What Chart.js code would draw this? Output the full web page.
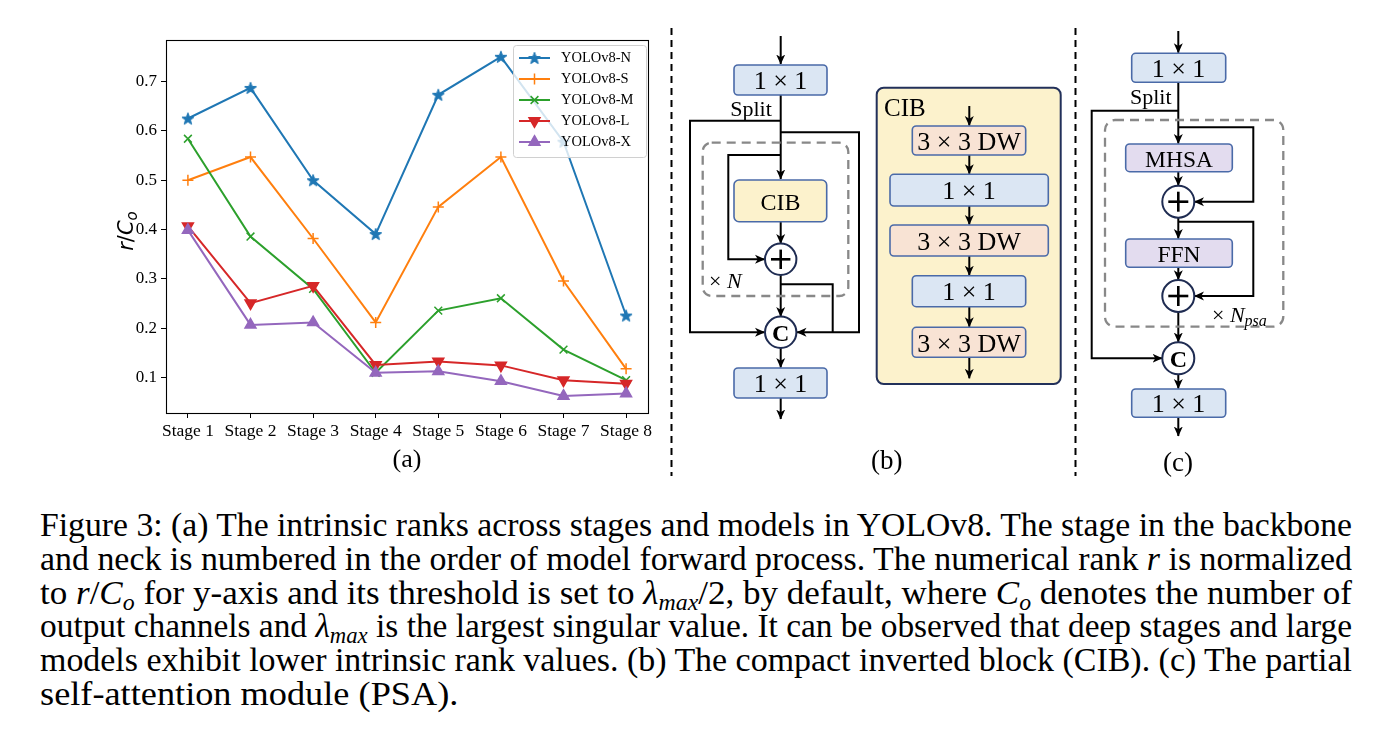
<!DOCTYPE html>
<html><head><meta charset="utf-8">
<script src="https://cdn.jsdelivr.net/npm/chart.js@4.4.1/dist/chart.umd.min.js"></script>
<style>
html,body{margin:0;padding:0;background:#fff;width:1380px;height:732px;overflow:hidden;font-family:"Liberation Serif","Times New Roman",serif;color:#000;}
#wrap{position:relative;width:1380px;height:732px;}
#chartBox{position:absolute;left:0;top:0;width:670px;height:480px;}
#ytitle{position:absolute;left:126px;top:231px;transform:translate(-50%,-50%) rotate(-90deg);font-family:"DejaVu Sans",sans-serif;font-size:21px;white-space:nowrap;}
#ytitle sub{font-size:15px;vertical-align:-4px;line-height:0;}
#diag{position:absolute;left:0;top:0;}
#caption{position:absolute;left:40px;top:509px;width:1312px;font-size:33px;line-height:33.8px;}
#caption .ln{white-space:nowrap;height:33.8px;}
#caption .ln span{display:inline-block;transform-origin:0 50%;}
#caption sub{font-size:0.68em;vertical-align:-0.28em;line-height:0;}
svg text{font-family:"Liberation Serif","Times New Roman",serif;}
</style></head>
<body><div id="wrap">
<div id="chartBox"><canvas id="cv" width="670" height="480"></canvas></div>
<div id="ytitle"><i>r</i>/<i>C</i><sub><i>o</i></sub></div>

<svg id="diag" width="1380" height="490" viewBox="0 0 1380 490">
<defs>
<marker id="ah" viewBox="0 0 10 10" refX="9.5" refY="5" markerWidth="10" markerHeight="10" markerUnits="userSpaceOnUse" orient="auto">
<path d="M0,0.5 L10,5 L0,9.5 L2.8,5 z" fill="#000"/>
</marker>
</defs>
<g stroke="#000" stroke-width="2" stroke-dasharray="7 5" fill="none">
<line x1="671.5" y1="28" x2="671.5" y2="476"/>
<line x1="1075.5" y1="28" x2="1075.5" y2="476"/>
</g>

<!-- (b) -->
<g fill="none" stroke="#000" stroke-width="2">
<line x1="780.7" y1="36" x2="780.7" y2="64" marker-end="url(#ah)"/>
<line x1="780.7" y1="95" x2="780.7" y2="179" marker-end="url(#ah)"/>
<polyline points="780.7,120.7 690,120.7 690,332.3 764.5,332.3" marker-end="url(#ah)"/>
<polyline points="780.7,132.3 859,132.3 859,332.3 797,332.3" marker-end="url(#ah)"/>
<polyline points="780.7,155 728.3,155 728.3,259.3 764.5,259.3" marker-end="url(#ah)"/>
<line x1="780.7" y1="221.7" x2="780.7" y2="243.5" marker-end="url(#ah)"/>
<line x1="780.7" y1="275" x2="780.7" y2="316.5" marker-end="url(#ah)"/>
<polyline points="780.7,284.3 832.7,284.3 832.7,332.3"/>
<line x1="780.7" y1="348" x2="780.7" y2="367.5" marker-end="url(#ah)"/>
<line x1="780.7" y1="398" x2="780.7" y2="419" marker-end="url(#ah)"/>
</g>
<rect x="702.7" y="142.7" width="145.6" height="153.3" rx="9" fill="none" stroke="#888" stroke-width="2.3" stroke-dasharray="9 6"/>
<g stroke="#4a6aa8" stroke-width="1.6">
<rect x="734" y="65" width="93" height="30" rx="4" fill="#dbe6f3"/>
<rect x="734" y="180" width="92.7" height="41.7" rx="5" fill="#fcf2cc"/>
<rect x="734" y="368" width="93" height="30" rx="4" fill="#dbe6f3"/>
</g>
<g stroke="#1f2c52" stroke-width="2" fill="#fff">
<circle cx="780.7" cy="259.3" r="15.7"/>
<circle cx="780.7" cy="332.3" r="15.7"/>
</g>
<g stroke="#000" stroke-width="2.6">
<line x1="771" y1="259.3" x2="790.4" y2="259.3"/><line x1="780.7" y1="249.6" x2="780.7" y2="269"/>
</g>
<g font-size="26" text-anchor="middle" fill="#000">
<text x="780.5" y="89">1 × 1</text>
<text x="780.5" y="209.5" font-size="24">CIB</text>
<text x="780.7" y="341" font-weight="bold" font-size="24">C</text>
<text x="780.5" y="392">1 × 1</text>
<text x="886.7" y="469" font-size="27">(b)</text>
</g>
<text x="751" y="116" font-size="22" text-anchor="middle">Split</text>
<text x="709" y="288" font-size="22">× <tspan font-style="italic">N</tspan></text>

<!-- CIB detail -->
<rect x="876.7" y="87.7" width="184" height="296.3" rx="7" fill="#fcf2cc" stroke="#22305a" stroke-width="2"/>
<text x="884" y="116" font-size="25">CIB</text>
<g fill="none" stroke="#000" stroke-width="2">
<line x1="969.3" y1="106" x2="969.3" y2="125.5" marker-end="url(#ah)"/>
<line x1="969.3" y1="155" x2="969.3" y2="173.8" marker-end="url(#ah)"/>
<line x1="969.3" y1="206" x2="969.3" y2="224.5" marker-end="url(#ah)"/>
<line x1="969.3" y1="256" x2="969.3" y2="275.2" marker-end="url(#ah)"/>
<line x1="969.3" y1="306.7" x2="969.3" y2="326.8" marker-end="url(#ah)"/>
<line x1="969.3" y1="357.3" x2="969.3" y2="378.3" marker-end="url(#ah)"/>
</g>
<g stroke="#4a6aa8" stroke-width="1.6">
<rect x="912.3" y="126" width="113.4" height="29" rx="4" fill="#f8e3d4"/>
<rect x="890" y="174.3" width="158.3" height="31.7" rx="4" fill="#dbe6f3"/>
<rect x="890" y="225" width="158.3" height="31" rx="4" fill="#f8e3d4"/>
<rect x="912.3" y="275.7" width="113.4" height="31" rx="4" fill="#dbe6f3"/>
<rect x="912.3" y="327.3" width="113.4" height="30" rx="4" fill="#f8e3d4"/>
</g>
<g font-size="26" text-anchor="middle" fill="#000">
<text x="969" y="149.5">3 × 3 DW</text>
<text x="969" y="199">1 × 1</text>
<text x="969" y="249.5">3 × 3 DW</text>
<text x="969" y="300">1 × 1</text>
<text x="969" y="351.5">3 × 3 DW</text>
</g>

<!-- (c) -->
<g fill="none" stroke="#000" stroke-width="2">
<line x1="1178.3" y1="31" x2="1178.3" y2="52.8" marker-end="url(#ah)"/>
<line x1="1178.3" y1="82.3" x2="1178.3" y2="143.5" marker-end="url(#ah)"/>
<polyline points="1178.3,110.7 1091.7,110.7 1091.7,358.3 1162,358.3" marker-end="url(#ah)"/>
<polyline points="1178.3,127.3 1253.3,127.3 1253.3,201.7 1194.5,201.7" marker-end="url(#ah)"/>
<line x1="1178.3" y1="171.7" x2="1178.3" y2="185.5" marker-end="url(#ah)"/>
<line x1="1178.3" y1="217.7" x2="1178.3" y2="238.5" marker-end="url(#ah)"/>
<polyline points="1178.3,221.7 1253.3,221.7 1253.3,296 1194.5,296" marker-end="url(#ah)"/>
<line x1="1178.3" y1="267.3" x2="1178.3" y2="279.8" marker-end="url(#ah)"/>
<line x1="1178.3" y1="312" x2="1178.3" y2="342" marker-end="url(#ah)"/>
<line x1="1178.3" y1="374.3" x2="1178.3" y2="388.5" marker-end="url(#ah)"/>
<line x1="1178.3" y1="417.3" x2="1178.3" y2="436" marker-end="url(#ah)"/>
</g>
<rect x="1105" y="120" width="178.3" height="206.7" rx="10" fill="none" stroke="#888" stroke-width="2.3" stroke-dasharray="9 6"/>
<g stroke="#4a6aa8" stroke-width="1.6">
<rect x="1131.7" y="53.3" width="94" height="29" rx="4" fill="#dbe6f3"/>
<rect x="1125.7" y="144" width="106.6" height="27.7" rx="4" fill="#e3dcef"/>
<rect x="1125.7" y="239" width="106.6" height="28.3" rx="4" fill="#e3dcef"/>
<rect x="1131.7" y="389" width="94" height="28.3" rx="4" fill="#dbe6f3"/>
</g>
<g stroke="#1f2c52" stroke-width="2" fill="#fff">
<circle cx="1178.3" cy="201.7" r="16"/>
<circle cx="1178.3" cy="296" r="16"/>
<circle cx="1178.3" cy="358.3" r="16"/>
</g>
<g stroke="#000" stroke-width="2.6">
<line x1="1168.3" y1="201.7" x2="1188.3" y2="201.7"/><line x1="1178.3" y1="191.7" x2="1178.3" y2="211.7"/>
<line x1="1168.3" y1="296" x2="1188.3" y2="296"/><line x1="1178.3" y1="286" x2="1178.3" y2="306"/>
</g>
<g font-size="26" text-anchor="middle" fill="#000">
<text x="1178.5" y="76.5">1 × 1</text>
<text x="1179" y="166.5" font-size="23.5">MHSA</text>
<text x="1179" y="261.5" font-size="23.5">FFN</text>
<text x="1178.3" y="367" font-weight="bold" font-size="24">C</text>
<text x="1178.5" y="412">1 × 1</text>
<text x="1178" y="471" font-size="27">(c)</text>
</g>
<text x="1150.8" y="104" font-size="22" text-anchor="middle">Split</text>
<text x="1212" y="322" font-size="22">× <tspan font-style="italic">N</tspan><tspan font-style="italic" font-size="16" dy="4">psa</tspan></text>
</svg>

<div id="caption">
<div class="ln"><span>Figure 3: (a) The intrinsic ranks across stages and models in YOLOv8. The stage in the backbone</span></div>
<div class="ln"><span>and neck is numbered in the order of model forward process. The numerical rank <i>r</i> is normalized</span></div>
<div class="ln"><span>to <i>r</i>/<i>C<sub>o</sub></i> for y-axis and its threshold is set to <i>λ<sub>max</sub></i>/2, by default, where <i>C<sub>o</sub></i> denotes the number of</span></div>
<div class="ln"><span>output channels and <i>λ<sub>max</sub></i> is the largest singular value. It can be observed that deep stages and large</span></div>
<div class="ln"><span>models exhibit lower intrinsic rank values. (b) The compact inverted block (CIB). (c) The partial</span></div>
<div class="ln last"><span>self-attention module (PSA).</span></div>
</div>
</div>

<script>
// ---- data ----
const stages = ['Stage 1','Stage 2','Stage 3','Stage 4','Stage 5','Stage 6','Stage 7','Stage 8'];
const seriesNames = ['YOLOv8-N','YOLOv8-S','YOLOv8-M','YOLOv8-L','YOLOv8-X'];
const yoloN = [0.625, 0.687, 0.500, 0.391, 0.673, 0.750, 0.578, 0.226];
const yoloS = [0.500, 0.547, 0.382, 0.212, 0.446, 0.547, 0.296, 0.118];
const yoloM = [0.584, 0.386, 0.280, 0.110, 0.236, 0.261, 0.157, 0.095];
const yoloL = [0.407, 0.251, 0.286, 0.126, 0.133, 0.125, 0.095, 0.088];
const yoloX = [0.399, 0.207, 0.212, 0.110, 0.113, 0.093, 0.063, 0.068];
const yTicks = [0.1, 0.2, 0.3, 0.4, 0.5, 0.6, 0.7];

const colors = ['#1f77b4','#ff7f0e','#2ca02c','#d62728','#9467bd'];
const seriesValues = [yoloN, yoloS, yoloM, yoloL, yoloX];
const SERIF = '"Liberation Serif","Times New Roman",serif';

// caption justification (per line, like the typeset original)
(function(){
  const W = 1312, K = 1.1;
  document.querySelectorAll('#caption .ln').forEach(ln => {
    const sp = ln.querySelector('span');
    const w = sp.getBoundingClientRect().width;
    const last = ln.classList.contains('last');
    const s = last ? K : Math.min(K, W / w);
    sp.style.transform = 'scaleX(' + s + ')';
    if (!last) {
      const n = (sp.textContent.match(/ /g) || []).length;
      const extra = (W - w * s) / s;
      if (n && extra > 0) sp.style.wordSpacing = (extra / n) + 'px';
    }
  });
})();

function starImg(color, r){
  const s = Math.ceil(r*2+3);
  const c = document.createElement('canvas'); c.width = s; c.height = s;
  const g = c.getContext('2d');
  g.fillStyle = color; g.strokeStyle = color; g.lineWidth = 1;
  g.beginPath();
  for (let i=0;i<10;i++){
    const rr = (i%2) ? r*0.42 : r;
    const a = -Math.PI/2 + i*Math.PI/5;
    g.lineTo(s/2 + rr*Math.cos(a), s/2 + 0.6 + rr*Math.sin(a));
  }
  g.closePath(); g.fill(); g.stroke();
  return c;
}

const markerDefs = [
  {pointStyle: starImg(colors[0], 6.3), pointRadius: 6, pointRotation: 0},
  {pointStyle: 'cross', pointRadius: 5.5, pointRotation: 0},
  {pointStyle: 'crossRot', pointRadius: 5.5, pointRotation: 0},
  {pointStyle: 'triangle', pointRadius: 6.3, pointRotation: 180},
  {pointStyle: 'triangle', pointRadius: 6.3, pointRotation: 0}
];

const datasets = seriesNames.map((name, i) => ({
  label: name,
  data: seriesValues[i].map((v, j) => ({x: j + 1, y: v})),
  borderColor: colors[i],
  backgroundColor: colors[i],
  pointBackgroundColor: colors[i],
  pointBorderColor: colors[i],
  borderWidth: 2,
  pointBorderWidth: 1.5,
  pointStyle: markerDefs[i].pointStyle,
  pointRadius: markerDefs[i].pointRadius,
  pointRotation: markerDefs[i].pointRotation,
  tension: 0,
  fill: false,
  order: seriesNames.length - i
}));

const framePlugin = {
  id: 'frame',
  afterDatasetsDraw(chart){
    const {ctx, chartArea: a} = chart;
    ctx.save();
    ctx.strokeStyle = '#000'; ctx.lineWidth = 1.1;
    ctx.strokeRect(Math.round(a.left)+0.5, Math.round(a.top)+0.5, Math.round(a.right-a.left), Math.round(a.bottom-a.top));
    ctx.restore();
  }
};

const legendPlugin = {
  id: 'innerLegend',
  afterDraw(chart){
    const {ctx, chartArea: a} = chart;
    const bw = 133, bh = 112;
    const bx = a.right - bw - 2, by = a.top + 5;
    ctx.save();
    ctx.beginPath();
    ctx.roundRect(bx+0.5, by+0.5, bw, bh, 3);
    ctx.fillStyle = 'rgba(255,255,255,0.8)';
    ctx.fill();
    ctx.strokeStyle = '#d0d0d0'; ctx.lineWidth = 1; ctx.stroke();
    chart.data.datasets.forEach((ds, i) => {
      const y = by + 13 + i * 21;
      ctx.strokeStyle = ds.borderColor; ctx.fillStyle = ds.borderColor; ctx.lineWidth = 2;
      ctx.beginPath(); ctx.moveTo(bx + 6, y); ctx.lineTo(bx + 37, y); ctx.stroke();
      ctx.lineWidth = ds.pointBorderWidth;
      Chart.helpers.drawPoint(ctx, {pointStyle: ds.pointStyle, radius: ds.pointRadius, rotation: ds.pointRotation, borderWidth: ds.pointBorderWidth}, bx + 21.5, y);
      ctx.fillStyle = '#000';
      ctx.font = '14.5px ' + SERIF;
      ctx.textBaseline = 'middle'; ctx.textAlign = 'left';
      ctx.fillText(ds.label, bx + 48, y + 0.5);
    });
    ctx.restore();
  }
};

new Chart(document.getElementById('cv'), {
  type: 'line',
  data: {datasets},
  options: {
    responsive: false,
    animation: false,
    events: [],
    layout: {padding: {top: 40, right: 22, left: 0, bottom: 0}},
    plugins: {legend: {display: false}, tooltip: {enabled: false}},
    scales: {
      x: {
        type: 'linear', min: 0.65, max: 8.35,
        afterBuildTicks: s => { s.ticks = stages.map((_, i) => ({value: i + 1})); },
        afterFit: s => { s.height = 67; },
        ticks: {autoSkip: false, maxRotation: 0, minRotation: 0, color: '#000', padding: 3,
                font: {family: SERIF, size: 17.5},
                callback: v => stages[Math.round(v) - 1]},
        grid: {display: true, drawOnChartArea: false, drawTicks: true, tickLength: 5, color: '#000', lineWidth: 1},
        border: {display: true, color: '#000', width: 1},
        title: {display: true, text: '(a)', color: '#000', font: {family: SERIF, size: 26}, padding: {top: 2, bottom: 4}}
      },
      y: {
        type: 'linear', min: 0.0286, max: 0.784,
        afterBuildTicks: s => { s.ticks = yTicks.map(v => ({value: v})); },
        afterFit: s => { s.width = 166; },
        ticks: {color: '#000', padding: 4, font: {family: SERIF, size: 17},
                callback: v => Number(v).toFixed(1)},
        grid: {display: true, drawOnChartArea: false, drawTicks: true, tickLength: 5, color: '#000', lineWidth: 1},
        border: {display: true, color: '#000', width: 1}
      }
    }
  },
  plugins: [framePlugin, legendPlugin]
});
</script>
</body></html>
